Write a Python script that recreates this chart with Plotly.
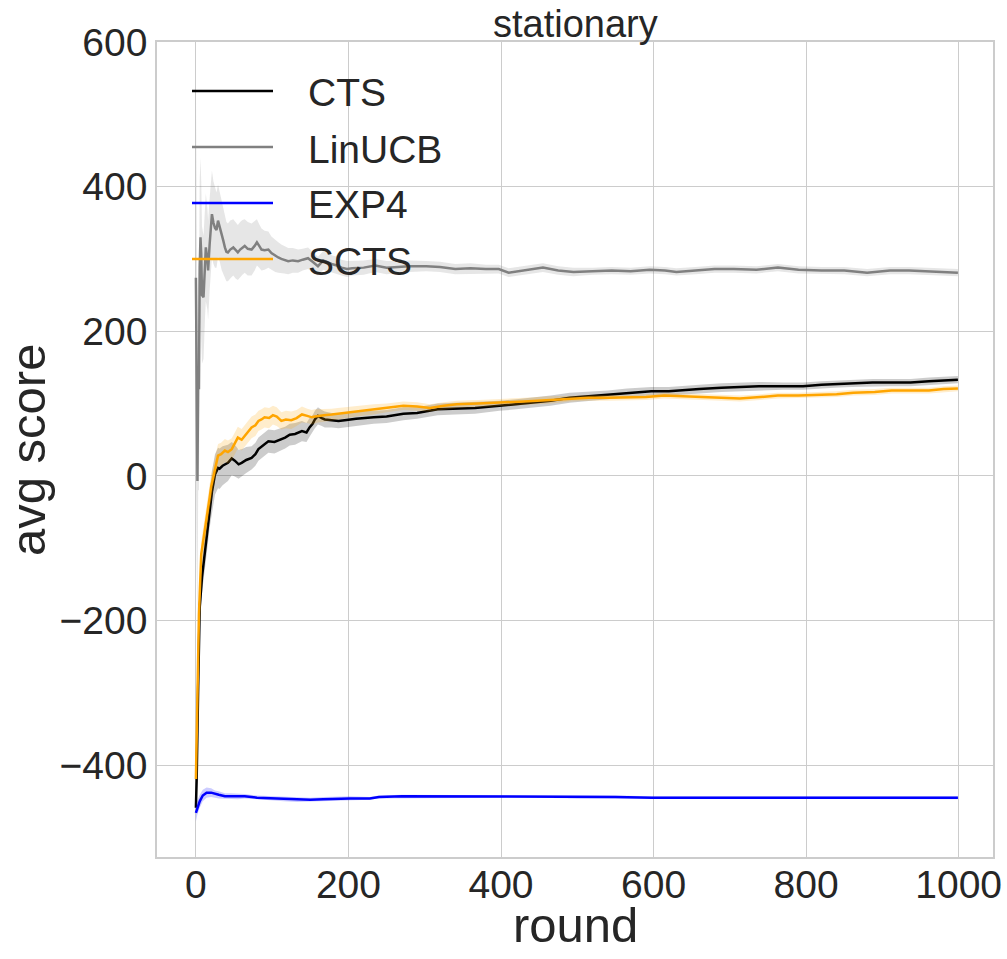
import plotly.graph_objects as go

# ---------------- data ----------------
cts_round = [0, 1, 3, 5, 8, 12, 16, 18, 21, 25, 29, 31, 35, 42, 47, 51, 56, 60, 66, 73,
             78, 82, 88, 95, 103, 110, 117, 123, 130, 139, 145, 149, 153, 156, 160, 165, 169, 178, 187, 195,
             210, 233, 250, 272, 290, 317, 340, 366, 398, 420, 441, 465, 490, 515, 540, 565, 597, 620, 639, 660,
             689, 710, 738, 770, 796, 820, 837, 860, 887, 910, 937, 961, 980, 999]
cts_mean = [-459, -420, -290, -182, -140, -104, -65, -45, -22, 2, 11, 10, 14, 18, 24, 21, 16, 18, 22, 25,
            30, 37, 42, 48, 47, 50, 53, 57, 58, 62, 60, 67, 72, 78, 83, 80, 78, 77, 76, 77,
            79, 81, 82, 86, 87, 92, 93, 94, 97, 99, 101, 104, 108, 110, 112, 115, 117, 117, 118, 120,
            122, 123, 124, 124, 124, 126, 127, 128, 129, 129, 129, 131, 132, 133]
cts_ci = [10, 14, 18, 20, 22, 24, 26, 27, 28, 28, 28, 28, 27, 25, 23, 22, 20, 19, 18, 16,
          16, 16, 16, 16, 16, 15, 15, 15, 15, 14, 13, 13, 12, 12, 12, 11, 11, 10, 10, 10,
          10, 9, 9, 9, 8, 8, 8, 8, 7, 7, 7, 7, 7, 6, 6, 6, 6, 6, 6, 6,
          6, 6, 6, 5, 5, 5, 5, 5, 5, 5, 5, 5, 5, 5]

lin_round = [0, 1, 2, 3, 4, 5, 6, 7, 8, 10, 12, 13, 15, 16, 18, 21, 23, 25, 27, 29,
             31, 34, 36, 38, 40, 42, 45, 49, 52, 55, 58, 61, 64, 68, 73, 77, 80, 83, 86, 90,
             95, 99, 104, 108, 112, 116, 121, 127, 134, 140, 147, 153, 160, 167, 178, 185, 191, 198, 205, 220,
             235, 250, 265, 280, 302, 320, 340, 360, 380, 397, 410, 430, 455, 475, 495, 520, 545, 570, 595, 615,
             630, 655, 680, 705, 735, 763, 790, 820, 850, 880, 910, 935, 960, 980, 999]
lin_mean = [274, 130, -7, 140, 120, 290, 330, 307, 250, 247, 300, 316, 300, 284, 320, 362, 350, 343, 340, 353,
            345, 330, 325, 316, 310, 309, 313, 316, 312, 309, 313, 316, 318, 314, 313, 318, 323, 318, 313, 312,
            313, 308, 304, 302, 300, 299, 297, 298, 297, 299, 301, 296, 290, 298, 293, 291, 288, 286, 287, 288,
            291, 288, 289, 290, 290, 289, 286, 287, 286, 286, 281, 284, 288, 284, 282, 283, 284, 283, 285, 284,
            282, 284, 286, 286, 285, 288, 285, 284, 284, 281, 284, 284, 283, 282, 281]
lin_ci = [270, 250, 200, 160, 140, 120, 110, 100, 95, 85, 80, 75, 70, 68, 64, 60, 57, 55, 52, 50,
          48, 46, 44, 42, 41, 40, 40, 39, 39, 38, 38, 38, 37, 37, 36, 34, 32, 30, 29, 27,
          25, 23, 22, 21, 20, 19, 18, 17, 16, 15, 15, 14, 13, 13, 12, 12, 11, 11, 10, 10,
          9, 9, 8, 8, 7, 7, 7, 7, 6, 6, 6, 6, 6, 6, 6, 5, 5, 5, 5, 5,
          5, 5, 5, 5, 5, 5, 5, 5, 5, 5, 5, 5, 5, 5, 5]

exp_round = [0, 2, 5, 9, 14, 20, 25, 30, 38, 45, 55, 64, 80, 100, 115, 133, 150, 167, 185, 202,
             228, 240, 270, 300, 350, 400, 450, 500, 550, 598, 650, 700, 750, 800, 850, 900, 950, 999]
exp_mean = [-466, -458, -450, -442, -438, -438, -440, -441, -443, -443, -443, -443, -445, -446, -447, -448, -448, -447, -446, -446,
            -446, -444, -443, -443, -443, -443, -443, -444, -444, -445, -445, -445, -445, -444, -444, -444, -445, -445]
exp_ci = [12, 10, 9, 8, 7, 6, 5, 5, 4, 4, 4, 3, 3, 3, 3, 3, 3, 3, 3, 3,
          2, 2, 2, 2, 2, 2, 2, 2, 2, 2, 2, 2, 2, 2, 2, 2, 2, 2]

sc_round = [0, 2, 4, 7, 10, 14, 18, 20, 25, 29, 33, 38, 42, 47, 51, 55, 60, 64, 69, 73,
            78, 82, 86, 90, 96, 101, 106, 112, 118, 125, 132, 139, 146, 152, 156, 160, 168, 178, 186, 194,
            210, 233, 250, 272, 290, 307, 325, 342, 370, 398, 430, 465, 490, 515, 540, 565, 590, 614, 640, 664,
            690, 713, 740, 763, 790, 813, 840, 862, 890, 912, 940, 961, 980, 999]
sc_mean = [-419, -300, -191, -108, -88, -62, -30, -15, 11, 28, 30, 35, 33, 37, 45, 53, 50, 55, 62, 67,
           70, 76, 78, 81, 80, 84, 82, 76, 78, 77, 80, 85, 83, 81, 82, 83, 84, 85, 86, 87,
           89, 92, 94, 97, 96, 94, 97, 99, 100, 101, 103, 105, 107, 108, 108, 108, 109, 111, 110, 109,
           108, 107, 109, 111, 111, 112, 113, 115, 116, 118, 118, 118, 120, 121]
sc_ci = [8, 12, 15, 18, 18, 18, 18, 18, 17, 16, 16, 16, 16, 15, 15, 15, 15, 15, 15, 15,
         15, 14, 14, 14, 14, 13, 13, 12, 12, 12, 11, 11, 10, 10, 10, 9, 9, 8, 8, 8,
         7, 7, 6, 6, 6, 5, 5, 5, 5, 5, 5, 5, 4, 4, 4, 4, 4, 4, 4, 4,
         4, 4, 4, 4, 4, 4, 4, 4, 4, 4, 4, 4, 4, 4]

series_names = ["CTS", "LinUCB", "EXP4", "SCTS"]
series_colors = ["#000000", "#808080", "#0000ff", "#ffa500"]
band_colors = ["rgba(0,0,0,0.2)", "rgba(128,128,128,0.2)", "rgba(0,0,255,0.2)", "rgba(255,165,0,0.2)"]

series = [
    (cts_round, cts_mean, cts_ci),
    (lin_round, lin_mean, lin_ci),
    (exp_round, exp_mean, exp_ci),
    (sc_round, sc_mean, sc_ci),
]

x_ticks = [0, 200, 400, 600, 800, 1000]
y_ticks = [-400, -200, 0, 200, 400, 600]

FONT = "Liberation Sans, Arial, Helvetica, sans-serif"
TXT = "#262626"

fig = go.Figure()
for (rnd, mean, ci), name, col, bcol in zip(series, series_names, series_colors, band_colors):
    upper = [m + c for m, c in zip(mean, ci)]
    lower = [m - c for m, c in zip(mean, ci)]
    fig.add_trace(go.Scatter(
        x=list(rnd) + list(rnd)[::-1],
        y=upper + lower[::-1],
        fill="toself", fillcolor=bcol, line=dict(width=0),
        mode="lines", hoverinfo="skip", showlegend=False,
    ))
    fig.add_trace(go.Scatter(
        x=rnd, y=mean, mode="lines", name=name,
        line=dict(color=col, width=2.5), showlegend=False,
    ))

# plot area geometry (pixels)
W, H = 1007, 959
L, R, T, B = 157, 14, 42, 102
pw, ph = W - L - R, H - T - B

def px_x(p):
    return (p - L) / pw

def px_y(p):
    return (H - B - p) / ph

annotations = []
shapes = []
# manual legend (long line samples like the reference)
leg_y = [91, 147, 203, 259]
for name, col, yy in zip(series_names, series_colors, leg_y):
    shapes.append(dict(type="line", xref="paper", yref="paper",
                       x0=px_x(192), x1=px_x(273), y0=px_y(yy), y1=px_y(yy),
                       line=dict(color=col, width=2.5), layer="above"))
    annotations.append(dict(text=name, xref="paper", yref="paper",
                            x=px_x(306), y=px_y(yy + 2), xanchor="left", yanchor="middle",
                            showarrow=False, font=dict(family=FONT, size=39, color=TXT)))

# title
annotations.append(dict(text="stationary", xref="paper", yref="paper", x=0.5, y=px_y(24),
                        xanchor="center", yanchor="middle", showarrow=False,
                        font=dict(family=FONT, size=38, color=TXT)))
# y axis title
annotations.append(dict(text="avg score", xref="paper", yref="paper", x=px_x(28), y=px_y(450),
                        xanchor="center", yanchor="middle", textangle=-90, showarrow=False,
                        font=dict(family=FONT, size=49, color=TXT)))
# x axis title
annotations.append(dict(text="round", xref="paper", yref="paper", x=0.5, y=px_y(925),
                        xanchor="center", yanchor="middle", showarrow=False,
                        font=dict(family=FONT, size=49, color=TXT)))

fig.update_layout(
    width=W, height=H,
    margin=dict(l=L, r=R, t=T, b=B, autoexpand=False),
    paper_bgcolor="white", plot_bgcolor="white",
    showlegend=False,
    font=dict(family=FONT, color=TXT),
    annotations=annotations,
    shapes=shapes,
)
fig.update_xaxes(
    range=[-51, 1045], tickvals=x_ticks, ticktext=[str(v) for v in x_ticks],
    showgrid=True, gridcolor="#cccccc", gridwidth=1, zeroline=False,
    showline=True, linecolor="#cccccc", linewidth=1.5, mirror=True,
    ticks="", ticklen=0, ticklabelstandoff=-8, automargin=False,
    tickfont=dict(family=FONT, size=39, color=TXT),
)
fig.update_yaxes(
    range=[-527, 600], tickvals=y_ticks, ticktext=[("\u2212" + str(-v)) if v < 0 else str(v) for v in y_ticks],
    showgrid=True, gridcolor="#cccccc", gridwidth=1, zeroline=False,
    showline=True, linecolor="#cccccc", linewidth=1.5, mirror=True,
    ticks="", ticklen=0, ticklabelstandoff=0, automargin=False,
    tickfont=dict(family=FONT, size=39, color=TXT),
)

fig.write_html("out.html", config={"displayModeBar": False},
               post_script="document.body.style.margin='0';document.body.style.overflow='hidden';")
